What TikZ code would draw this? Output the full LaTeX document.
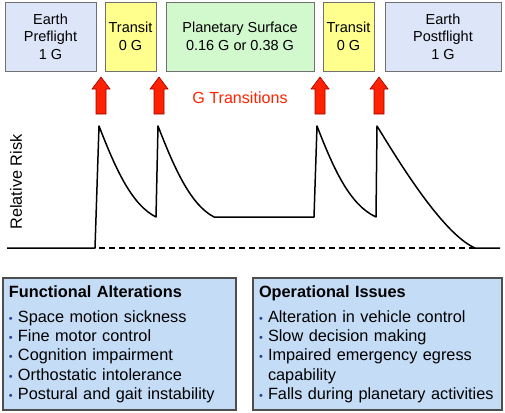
\documentclass[tikz,border=0pt]{standalone}
\usepackage{fontspec}
\setmainfont{Liberation Sans}
\usepackage{xcolor}
\usepackage{tikz}
\usetikzlibrary{calc}
\usetikzlibrary{arrows}

\definecolor{earthblue}{HTML}{DDE6F8}
\definecolor{transityellow}{HTML}{FFFF8E}
\definecolor{surfgreen}{HTML}{D2F8CE}
\definecolor{listblue}{HTML}{C4DCF6}
\definecolor{boxgray}{HTML}{707070}
\definecolor{arrowred}{HTML}{FF2200}
\definecolor{arrowdark}{HTML}{A00000}
\definecolor{bltblue}{HTML}{2A3F8F}

\newcommand{\blt}{\makebox[9pt][l]{\textcolor{bltblue}{\fontsize{11}{11}\selectfont\textbullet}}}

\tikzset{phasebox/.style={draw=boxgray, line width=0.8pt, minimum height=69pt, inner sep=2pt,
    align=center, font=\fontsize{14.5}{17.5}\selectfont}}
\tikzset{listbox/.style={draw=boxgray!70!black, line width=1.2pt, fill=listblue, minimum height=132pt,
    inner sep=6pt, align=left, font=\fontsize{16.3}{19.3}\selectfont}}
\tikzset{garrow/.style={fill=arrowred, draw=arrowdark, line width=0.6pt, line join=miter}}

\begin{document}
\begin{tikzpicture}[x=1pt,y=-1pt]
\useasboundingbox (0,0) rectangle (505,412);

\node[phasebox, fill=earthblue, minimum width=91pt] (pre) at (50.5,36.5) {Earth\\Preflight\\1 G};
\node[phasebox, fill=transityellow, minimum width=51pt] (transout) at (130.5,36.5) {Transit\\0 G};
\node[phasebox, fill=surfgreen, minimum width=148pt] (surf) at (240,36.5) {Planetary Surface\\0.16 G or 0.38 G};
\node[phasebox, fill=transityellow, minimum width=51pt] (transback) at (348.5,36.5) {Transit\\0 G};
\node[phasebox, fill=earthblue, minimum width=116pt] (post) at (443,36.5) {Earth\\Postflight\\1 G};

\foreach \x in {101,159,320,379} {
  \draw[garrow] (\x-5,114) -- (\x+5,114) -- (\x+5,89) -- (\x+9,89) -- (\x,77) -- (\x-9,89) -- (\x-5,89) -- cycle;
}
\node[text=arrowred, font=\fontsize{16.1}{19}\selectfont] (gtrans) at (240,98) {G Transitions};

\node[rotate=90, font=\fontsize{16.3}{19}\selectfont] (risk) at (16,182) {Relative Risk};

\draw[black, line width=1.5pt, line join=round] (7,248) -- (95,248) -- (99,126)
  .. controls (116,170) and (132,205) .. (156,217) -- (158,126)
  .. controls (175,170) and (191,205) .. (214,217) -- (314,217) -- (317,126)
  .. controls (334,170) and (350,205) .. (376,217) -- (377,126)
  .. controls (399,162) and (443,234) .. (475,248) -- (500,248);
\draw[black, line width=1.2pt, dash pattern=on 6pt off 4pt] (99,248) -- (475,248);

\node[listbox, minimum width=233pt, text width=221pt] (func) at (119.5,344) {%
  {\bfseries Functional Alterations}\\[5.7pt]
  \blt Space motion sickness\\
  \blt Fine motor control\\
  \blt Cognition impairment\\
  \blt Orthostatic intolerance\\
  \blt Postural and gait instability};
\node[listbox, minimum width=249pt, text width=237pt] (oper) at (377.5,344) {%
  {\bfseries Operational Issues}\\[5.7pt]
  \blt Alteration in vehicle control\\
  \blt Slow decision making\\
  \blt Impaired emergency egress\\
  \hspace*{9pt}capability\\
  \blt Falls during planetary activities};
\end{tikzpicture}
\end{document}
